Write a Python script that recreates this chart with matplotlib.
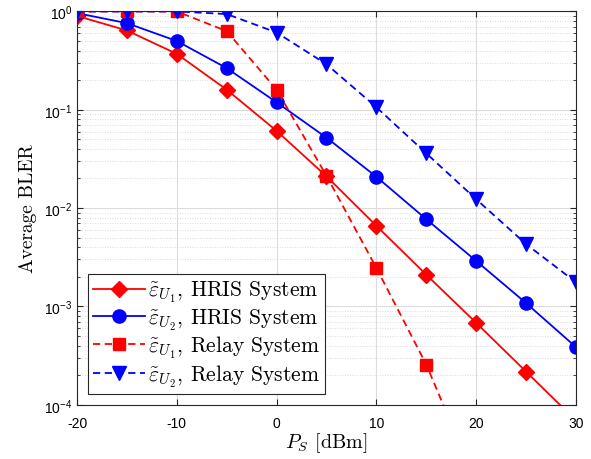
import matplotlib
matplotlib.use('Agg')
import matplotlib.pyplot as plt
from matplotlib.ticker import FixedLocator, LogLocator, NullFormatter

plt.rcParams['mathtext.fontset'] = 'cm'
plt.rcParams['mathtext.rm'] = 'Liberation Sans'
plt.rcParams['mathtext.it'] = 'Liberation Sans:italic'
plt.rcParams['mathtext.bf'] = 'Liberation Sans:bold'
plt.rcParams['font.family'] = 'Liberation Sans'

# Datos
ps_dbm = [-20, -15, -10, -5, 0, 5, 10, 15, 20, 25, 30]
bler_hris_u1 = [0.90, 0.64, 0.37, 0.16, 0.061, 0.021, 0.0066, 0.0021, 0.00068, 0.000217, 0.000069]
bler_hris_u2 = [0.96, 0.76, 0.50, 0.265, 0.119, 0.052, 0.0208, 0.0077, 0.0029, 0.00108, 0.000385]
bler_relay_u1 = [1.0, 1.0, 1.0, 0.63, 0.16, 0.0213, 0.00246, 0.000256, 0.000016]
bler_relay_u2 = [1.0, 1.0, 1.0, 0.94, 0.61, 0.29, 0.106, 0.036, 0.0123, 0.0043, 0.00176]

labels = [r'$\tilde{\varepsilon}_{U_1}$, HRIS System',
          r'$\tilde{\varepsilon}_{U_2}$, HRIS System',
          r'$\tilde{\varepsilon}_{U_1}$, Relay System',
          r'$\tilde{\varepsilon}_{U_2}$, Relay System']

xticks = [-20, -10, 0, 10, 20, 30]
xtick_labels = ['-20', '-10', '0', '10', '20', '30']
yticks = [1e-4, 1e-3, 1e-2, 1e-1, 1e0]
ytick_labels = [r'$10^{-4}$', r'$10^{-3}$', r'$10^{-2}$', r'$10^{-1}$', r'$10^{0}$']

fig = plt.figure(figsize=(5.91, 4.6), dpi=100)
ax = fig.add_axes([0.1303, 0.118, 0.8443, 0.855])

dash = (4.0, 2.5)
ax.plot(ps_dbm, bler_hris_u1, '-', color='red', lw=1.3, marker='D', ms=8, label=labels[0])
ax.plot(ps_dbm, bler_hris_u2, '-', color='blue', lw=1.3, marker='o', ms=9.5, label=labels[1])
ax.plot(ps_dbm[:len(bler_relay_u1)], bler_relay_u1, '--', dashes=dash, color='red', lw=1.3,
        marker='s', ms=9, label=labels[2])
ax.plot(ps_dbm, bler_relay_u2, '--', dashes=dash, color='blue', lw=1.3, marker='v', ms=10.5, label=labels[3])

ax.set_yscale('log')
ax.set_xlim(-20, 30)
ax.set_ylim(1e-4, 1)

ax.xaxis.set_major_locator(FixedLocator(xticks))
ax.set_xticklabels(xtick_labels)
ax.yaxis.set_major_locator(FixedLocator(yticks))
ax.set_yticklabels(ytick_labels)
for t in ax.get_yticklabels():
    t.set_math_fontfamily('custom')
ax.yaxis.set_minor_locator(LogLocator(base=10, subs=range(2, 10)))
ax.yaxis.set_minor_formatter(NullFormatter())

ax.tick_params(which='both', direction='in', top=True, right=True, labelsize=10, color='#262626')
ax.tick_params(which='major', length=4)
ax.tick_params(which='minor', length=2)
ax.tick_params(axis='x', which='major', pad=8)

ax.grid(True, which='major', color='#dcdcdc', lw=0.8, ls='-')
ax.grid(True, which='minor', axis='y', color='#cfcfcf', lw=0.6, ls=(0, (1, 2)))
ax.set_axisbelow(True)
for s in ax.spines.values():
    s.set_color('#262626')
    s.set_linewidth(0.8)

ax.set_xlabel(r'$P_S$ [dBm]', fontsize=14.5, family='cmr10', labelpad=0)
ax.set_ylabel('Average BLER', fontsize=14, family='cmr10', labelpad=5)

leg = ax.legend(loc='lower left', prop={'family': 'cmr10', 'size': 15.5}, fancybox=False,
                edgecolor='#262626', framealpha=1, borderpad=0.25, labelspacing=0.1,
                handlelength=2.4, handletextpad=0.15, borderaxespad=0.5)
leg.get_frame().set_linewidth(0.8)

fig.savefig('out.png', dpi=100)
